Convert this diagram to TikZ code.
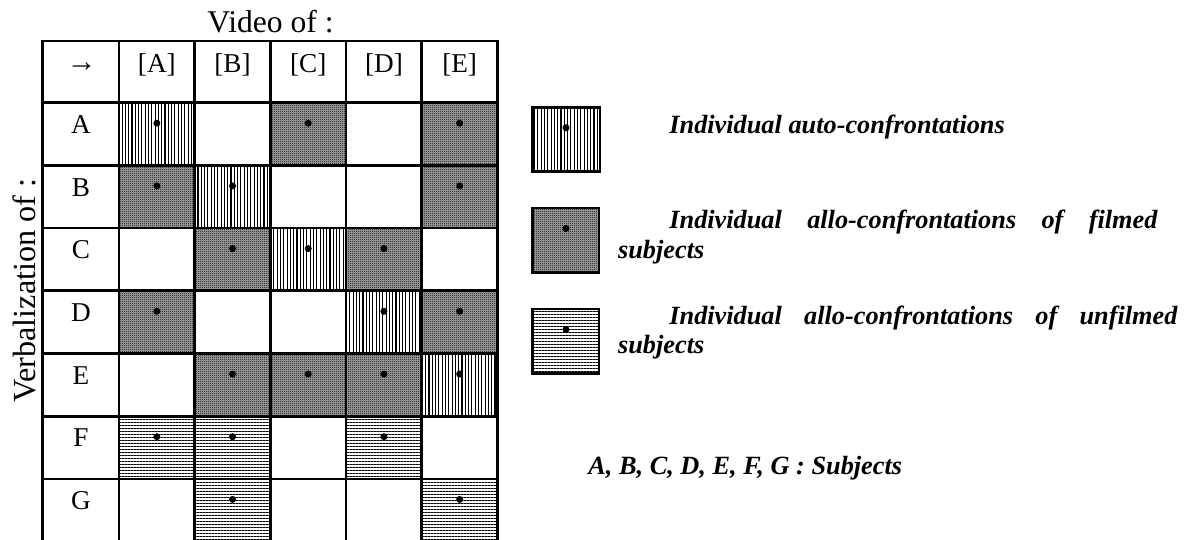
\documentclass[tikz,border=0pt]{standalone}
\usepackage{fontspec}
\setmainfont{Liberation Serif}
\usepackage{tikz}
\usetikzlibrary{patterns,patterns.meta}
\pgfdeclarepatternformonly{checker}{\pgfpointorigin}{\pgfqpoint{1pt}{1pt}}{\pgfqpoint{1pt}{1pt}}{%
  \pgfpathrectangle{\pgfpointorigin}{\pgfqpoint{0.5pt}{0.5pt}}%
  \pgfpathrectangle{\pgfqpoint{0.5pt}{0.5pt}}{\pgfqpoint{0.5pt}{0.5pt}}%
  \pgfusepath{fill}}
\tikzset{
  autocell/.style={pattern={Lines[angle=90,distance=1.65pt,line width=0.55pt]},pattern color=black},
  filmcell/.style={preaction={fill=black!35},pattern=checker,pattern color=black},
  unfilmcell/.style={pattern={Lines[angle=0,distance=1.5pt,line width=0.5pt]},pattern color=black},
  tablerule/.style={line width=1.35pt,line cap=rect},
  legbox/.style={line width=1.35pt},
  lab/.style={font=\fontsize{13.6}{16}\selectfont,inner sep=0pt,anchor=base},
  title/.style={font=\fontsize{15.8}{18}\selectfont,inner sep=0pt,anchor=base},
  legtext/.style={font=\fontsize{13.15}{15}\selectfont\bfseries\itshape,inner sep=0pt,anchor=base west}
}
\begin{document}
\begin{tikzpicture}[x=0.5pt,y=-0.5pt]
\useasboundingbox (0,0) rectangle (1187,540);
\foreach \r/\c/\p in {1/1/autocell,1/3/filmcell,1/5/filmcell,
  2/1/filmcell,2/2/autocell,2/5/filmcell,
  3/2/filmcell,3/3/autocell,3/4/filmcell,
  4/1/filmcell,4/4/autocell,4/5/filmcell,
  5/2/filmcell,5/3/filmcell,5/4/filmcell,5/5/autocell,
  6/1/unfilmcell,6/2/unfilmcell,6/4/unfilmcell,
  7/2/unfilmcell,7/5/unfilmcell}{
  \fill[\p] ({119+(\c-1)*75.7},{102.7+(\r-1)*62.7}) rectangle +(75.7,62.7);
  \fill ({119+(\c-0.5)*75.7},{102.7+(\r-1)*62.7+20.5}) circle (1.75pt);
}
\foreach \x in {42.7,119,194.7,270.4,346.1,421.8,497.5}
  \draw[tablerule] (\x,41) -- (\x,541.6);
\foreach \y in {41,102.7,165.4,228.1,290.8,353.5,416.2,478.9,541.6}
  \draw[tablerule] (42.7,\y) -- (497.5,\y);
\node[title] (video) at (270.5,33) {Video of :};
\node[title,font=\fontsize{16.1}{18}\selectfont,rotate=90] (verbal) at (35,290.5) {Verbalization of :};
\node[lab,font=\fontsize{15}{16}\selectfont\bfseries] (arrow) at (81.5,72) {→};
\foreach \t [count=\c] in {A,B,C,D,E}
  \node[lab] (col\t) at ({119+(\c-0.5)*75.7},73) {[\t]};
\foreach \t [count=\r] in {A,B,C,D,E,F,G}
  \node[lab] (row\t) at (81,{102.7+(\r-1)*62.7+30.6}) {\t};
\draw[legbox,autocell] (532.3,107.3) rectangle (600,171.3);
\fill (566,127.7) circle (1.75pt);
\draw[legbox,filmcell] (532.3,208) rectangle (599,272.7);
\fill (566,228.5) circle (1.75pt);
\draw[legbox,unfilmcell] (532.3,309) rectangle (599,373.3);
\fill (566,329.5) circle (1.75pt);
\node[legtext] (legauto) at (669,133.3) {Individual auto-confrontations};
\node[legtext] (legfilm) at (669,228.3) {\makebox[244pt][s]{Individual allo-confrontations of filmed}};
\node[legtext] (legfilmb) at (617.7,258.3) {subjects};
\node[legtext] (legunfilm) at (669,324.3) {\makebox[254pt][s]{Individual allo-confrontations of unfilmed}};
\node[legtext] (legunfilmb) at (617.7,353.3) {subjects};
\node[legtext] (subjects) at (588,474) {A, B, C, D, E, F, G : Subjects};
\end{tikzpicture}
\end{document}
